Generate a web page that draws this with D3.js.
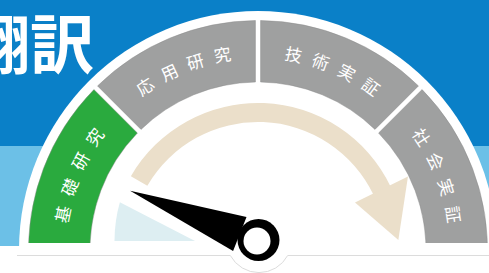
<!DOCTYPE html>
<html><head><meta charset="utf-8">
<script src="https://cdn.jsdelivr.net/npm/d3@7"></script>
<style>html,body{margin:0;padding:0;background:#fff;overflow:hidden}</style>
</head><body><svg id="c" width="489" height="273"></svg>
<script>
// ---- data ----
const titleText = "翻訳";
const stages = ["基礎研究", "応用研究", "技術実証", "社会実証"];
const stageColors = ["#2aaa3e", "#9fa0a0", "#9fa0a0", "#9fa0a0"];
const needleValue = [0.48];           // position on the 0–4 stage scale
const arrowStops = [0.67, 3.42, 3.91]; // arrow start, head base, head tip (stage scale)

// ---- layout ----
const W = 489, H = 273;
const svg = d3.select("#c");
const cx = 258, cy = 250;      // gauge centre
const hx = 257, hy = 241;      // needle hub
const rIn = 168, rOut = 229.5, rText = 198, rDisc = 239;
const angle = d3.scaleLinear().domain([0, stages.length]).range([-Math.PI / 2, Math.PI / 2]);

// backgrounds
svg.append("rect").attr("width", W).attr("height", 146).attr("fill", "#0a80c8");
svg.append("rect").attr("y", 146).attr("width", W).attr("height", 100).attr("fill", "#6cc0e7");
svg.append("rect").attr("y", 246).attr("width", W).attr("height", H - 246).attr("fill", "#fff");

// title
svg.append("text").attr("x", -34).attr("y", 68)
  .attr("font-family", "'Noto Sans CJK JP', sans-serif").attr("font-weight", "bold")
  .attr("font-size", 64).attr("fill", "#fff").text(titleText);

// clip for gauge
const defs = svg.append("defs");
defs.append("clipPath").attr("id", "top").append("rect").attr("width", W).attr("height", 255.5);
defs.append("clipPath").attr("id", "seg").append("rect").attr("width", W).attr("height", 243);

// white disc
svg.append("circle").attr("cx", cx).attr("cy", cy).attr("r", rDisc)
  .attr("fill", "#fff").attr("clip-path", "url(#top)");

// baseline & hub bottom arc
const botLine = svg.append("g").attr("stroke", "#dcdcdc").attr("stroke-width", 1).attr("fill", "none");
const hubArcR = 32.6, hubArcCx = 259, hubArcCy = 240;
const halfGap = Math.sqrt(hubArcR * hubArcR - (255.5 - hubArcCy) ** 2);
botLine.append("line").attr("x1", 17).attr("x2", hubArcCx - halfGap).attr("y1", 255.5).attr("y2", 255.5);
botLine.append("line").attr("x1", hubArcCx + halfGap).attr("x2", W).attr("y1", 255.5).attr("y2", 255.5);
const aa = Math.acos((255.5 - hubArcCy) / hubArcR);
const hp = d3.path();
hp.arc(hubArcCx, hubArcCy, hubArcR, Math.PI / 2 - aa, Math.PI / 2 + aa, false);
botLine.append("path").attr("d", hp.toString());

const g = svg.append("g").attr("transform", `translate(${cx},${cy})`);

// segments
const segArc = d3.arc().innerRadius(rIn).outerRadius(rOut).padAngle(0.018);
g.append("g").attr("clip-path", `url(#segc)`);
defs.append("clipPath").attr("id", "segc").append("rect")
  .attr("x", -cx).attr("y", -cy).attr("width", W).attr("height", 243);
g.select("g").selectAll("path").data(stages).join("path")
  .attr("d", (d, i) => segArc({
    startAngle: angle(i) - (i === 0 ? 0.06 : 0),
    endAngle: angle(i + 1) + (i === stages.length - 1 ? 0.06 : 0)
  }))
  .attr("fill", (d, i) => stageColors[i])
  .attr("stroke", "#8a8a8a").attr("stroke-opacity", 0.45).attr("stroke-width", 1);

// labels along arc
const tp = d3.path();
tp.moveTo(-rText, 0);
tp.arc(0, 0, rText, Math.PI, 2 * Math.PI, false);
defs.append("path").attr("id", "lblPath").attr("d", tp.toString());
const ls = 11;
g.selectAll("text.lbl").data(stages).join("text").attr("class", "lbl")
  .attr("font-family", "'Noto Sans CJK JP', sans-serif").attr("font-size", 17)
  .attr("fill", "#fff").attr("letter-spacing", ls).attr("dy", "0.36em")
  .append("textPath").attr("href", "#lblPath")
  .attr("startOffset", (d, i) => ((i + 0.5) / stages.length * 100) + "%")
  .attr("text-anchor", "middle")
  .text(d => d)
  .each(function () { d3.select(this.parentNode).attr("dx", ls / 2); });

// progress arrow
const rA0 = 128, rA1 = 147;
const pt = (a, r, ox = 0, oy = 0) => [ox + r * Math.sin(a), oy - r * Math.cos(a)];
g.append("path")
  .attr("d", d3.arc().innerRadius(rA0).outerRadius(rA1)({ startAngle: angle(arrowStops[0]), endAngle: angle(arrowStops[1]) + 0.01 }))
  .attr("fill", "#ebdfca");
const hb = angle(arrowStops[1]), ht = angle(arrowStops[2]);
const p1 = pt(hb, 108), p2 = pt(hb, 167), p3 = pt(ht, 140.7);
g.append("path").attr("d", `M${p1}L${p2}L${p3}Z`).attr("fill", "#ebdfca");

// shaded wedge up to needle
const na = angle(needleValue[0]);
const sp = d3.path();
const wr = 142.5;
sp.moveTo(hx - wr, hy);
sp.arc(hx, hy, wr, Math.PI, Math.PI + (na - angle(0)) * 0.73, false);
sp.lineTo(hx - 62, hy);
sp.closePath();
svg.append("path").attr("d", sp.toString()).attr("fill", "#ddeef2");

// needle
const dir = [Math.sin(na), -Math.cos(na)];
const nrm = [Math.cos(na), Math.sin(na)];
const tip = [hx + 136.5 * dir[0], hy + 136.5 * dir[1]];
const bc = [hx + 18.6 * dir[0], hy + 18.6 * dir[1]];
const b1 = [bc[0] + 18.5 * nrm[0], bc[1] + 18.5 * nrm[1]];
const b2 = [bc[0] - 18 * nrm[0], bc[1] - 18 * nrm[1]];
svg.append("path").attr("d", `M${tip}L${b1}L${b2}Z`).attr("fill", "#000");
svg.append("circle").attr("cx", hx + 1.5).attr("cy", hy - 1).attr("r", 21).attr("fill", "#000");
svg.append("circle").attr("cx", hx).attr("cy", hy).attr("r", 13.5).attr("fill", "#fff");
</script></body></html>
